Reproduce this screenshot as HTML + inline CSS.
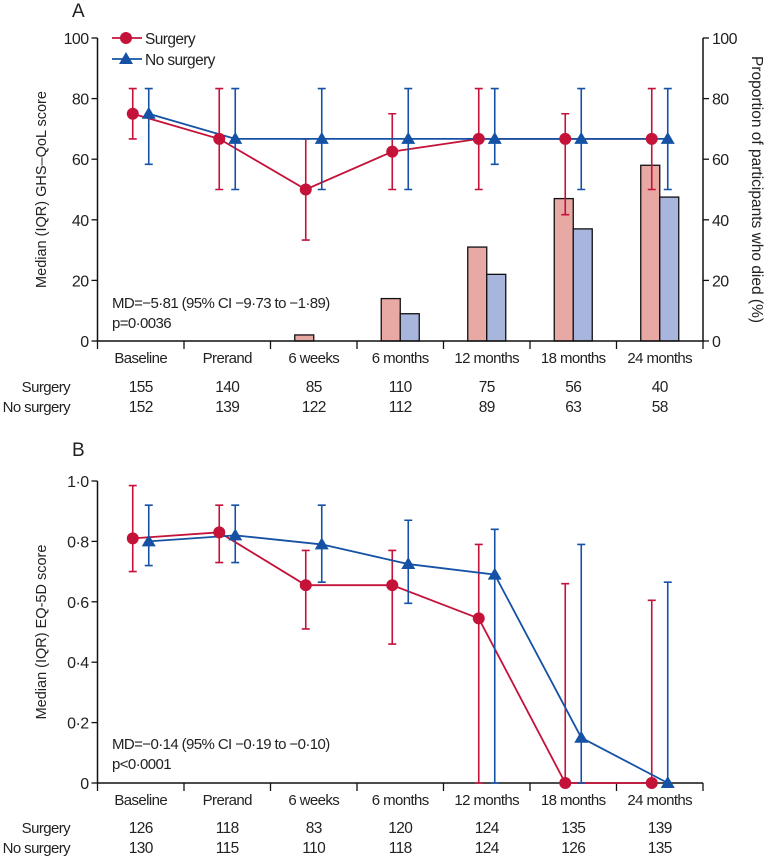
<!DOCTYPE html>
<html><head><meta charset="utf-8"><style>
body{margin:0;background:#fff}
svg{display:block;font-family:"Liberation Sans Narrow","Liberation Sans",sans-serif}
text{fill:#222;letter-spacing:-0.6px}
</style></head><body>
<svg id="chart" width="767" height="858" viewBox="0 0 767 858"></svg>
<script>
const categories=["Baseline","Prerand","6 weeks","6 months","12 months","18 months","24 months"];
const aSurgMed=[75,66.7,50,62.5,66.7,66.7,66.7];
const aSurgLo=[66.7,50,33.3,50,50,41.7,50];
const aSurgHi=[83.3,83.3,66.7,75,83.3,75,83.3];
const aNoMed=[75,66.7,66.7,66.7,66.7,66.7,66.7];
const aNoLo=[58.3,50,50,50,58.3,50,50];
const aNoHi=[83.3,83.3,83.3,83.3,83.3,83.3,83.3];
const diedSurg=[0,0,2,14,31,47,58];
const diedNo=[0,0,0,9,22,37,47.5];
const aSurgN=[155,140,85,110,75,56,40];
const aNoN=[152,139,122,112,89,63,58];
const aTicks=[0,20,40,60,80,100];
const bSurgMed=[0.81,0.83,0.655,0.655,0.545,0,0];
const bSurgLo=[0.70,0.73,0.51,0.46,0,0,0];
const bSurgHi=[0.985,0.92,0.77,0.77,0.79,0.66,0.605];
const bNoMed=[0.80,0.82,0.79,0.725,0.69,0.15,0];
const bNoLo=[0.72,0.73,0.665,0.595,0,0,0];
const bNoHi=[0.92,0.92,0.92,0.87,0.84,0.79,0.665];
const bSurgN=[126,118,83,120,124,135,139];
const bNoN=[130,115,110,118,124,126,135];
const bTicks=[0,0.2,0.4,0.6,0.8,1.0];

const svg=document.getElementById('chart');
const NS='http://www.w3.org/2000/svg';
const RED='#c41239',BLUE='#1552a5';
function mk(tag,attrs,parent){const e=document.createElementNS(NS,tag);for(const k in attrs)e.setAttribute(k,attrs[k]);(parent||svg).appendChild(e);return e;}
function txt(x,y,s,size,anchor,parent){const t=mk('text',{x:x,y:y,'font-size':size,'text-anchor':anchor||'middle'},parent);t.textContent=s;return t;}
const X0=97.5,X1=703,CW=(X1-X0)/categories.length;
const xc=i=>X0+CW*(i+0.5);

function panel(opt){
  const g=mk('g',{});
  
  
  const y=v=>opt.y0+(opt.y1-opt.y0)*(v-opt.min)/(opt.max-opt.min);
  const lt=txt(78,opt.letterY,opt.letter,19,'middle',g);
  
  if(opt.bars){
    opt.bars[0].forEach((v,i)=>{if(v<=0)return;
      const r=mk('rect',{x:xc(i)-19,y:y(v),width:19,height:y(0)-y(v),fill:'#e8a8a4',stroke:'#111','stroke-width':1.3},g);
      });
    opt.bars[1].forEach((v,i)=>{if(v<=0)return;
      const r=mk('rect',{x:xc(i),y:y(v),width:19,height:y(0)-y(v),fill:'#a8b5dc',stroke:'#111','stroke-width':1.3},g);
      });
  }
  const ax=mk('path',{d:`M${X0},${opt.y1} V${y(0)} H${X1}`+(opt.right?` V${opt.y1}`:''),fill:'none',stroke:'#111','stroke-width':1.5},g);
  
  opt.ticks.forEach(t=>{
    mk('line',{x1:X0-6,x2:X0,y1:y(t),y2:y(t),stroke:'#111','stroke-width':1.3},g);
    const l=txt(X0-9,y(t)+6,opt.fmt(t),16,'end',g);
    
    if(opt.right){mk('line',{x1:X1,x2:X1+6,y1:y(t),y2:y(t),stroke:'#111','stroke-width':1.3},g);
      const r=txt(X1+9,y(t)+6,opt.fmt(t),16,'start',g);
      }
  });
  for(let i=0;i<=categories.length;i++)mk('line',{x1:X0+CW*i,x2:X0+CW*i,y1:y(0),y2:y(0)+8,stroke:'#111','stroke-width':1.3},g);
  categories.forEach((c,i)=>{const l=txt(xc(i),y(0)+22,c,15,'middle',g);
    });
  const yl=txt(0,0,opt.ylabel,14.5,'middle',g);
  yl.setAttribute('transform',`translate(46,${(opt.y0+opt.y1)/2}) rotate(-90)`);
  yl.setAttribute('style','letter-spacing:0');
  
  if(opt.right){const rl=txt(0,0,'Proportion of participants who died (%)',15.5,'middle',g);
    rl.setAttribute('transform',`translate(752,${(opt.y0+opt.y1)/2}) rotate(90)`);
    rl.setAttribute('style','letter-spacing:0');
    }
  const series=[[opt.s[0],opt.s[1],opt.s[2],RED,-8,'surgery'],[opt.n[0],opt.n[1],opt.n[2],BLUE,8,'no-surgery']];
  series.forEach(([m,lo,hi,col,off,nm])=>{
    for(let i=0;i<m.length;i++){const x=xc(i)+off;
      const e=mk('path',{d:`M${x},${y(lo[i])}V${y(hi[i])}M${x-4},${y(lo[i])}H${x+4}M${x-4},${y(hi[i])}H${x+4}`,stroke:col,'stroke-width':1.6,fill:'none'},g);
      }
    const pl=mk('polyline',{points:m.map((v,i)=>`${xc(i)+off},${y(v)}`).join(' '),fill:'none',stroke:col,'stroke-width':1.8},g);
    
  });
  series.forEach(([m,lo,hi,col,off,nm])=>{
    m.forEach((v,i)=>{const x=xc(i)+off,yy=y(v);let p;
      if(nm==='surgery')p=mk('circle',{cx:x,cy:yy,r:6,fill:col},g);
      else p=mk('path',{d:`M${x},${yy-7}L${x+7},${yy+5}L${x-7},${yy+5}Z`,fill:col},g);
      });
  });
  const m1=txt(112,opt.mdY,opt.md,15,'start',g);
  const m2=txt(112,opt.mdY+20,opt.p,15,'start',g);
  const r1=txt(70,opt.cY,'Surgery',15,'end',g);
  const r2=txt(70,opt.cY+20,'No surgery',15,'end',g);
  opt.sn.forEach((v,i)=>{const t=txt(xc(i),opt.cY,v,15.5,'middle',g);});
  opt.nn.forEach((v,i)=>{const t=txt(xc(i),opt.cY+20,v,15.5,'middle',g);});
  return g;
}
panel({name:'panel-a',letter:'A',letterY:17,y0:341,y1:38,min:0,max:100,ticks:aTicks,fmt:t=>String(t),right:true,
  bars:[diedSurg,diedNo],ylabel:'Median (IQR) GHS–QoL score',
  s:[aSurgMed,aSurgLo,aSurgHi],n:[aNoMed,aNoLo,aNoHi],
  md:'MD=−5·81 (95% CI −9·73 to −1·89)',p:'p=0·0036',mdY:308,cY:392,sn:aSurgN,nn:aNoN});
panel({name:'panel-b',letter:'B',letterY:456,y0:783,y1:481,min:0,max:1,ticks:bTicks,fmt:t=>t===0?'0':t.toFixed(1).replace('.','·'),right:false,
  ylabel:'Median (IQR) EQ-5D score',
  s:[bSurgMed,bSurgLo,bSurgHi],n:[bNoMed,bNoLo,bNoHi],
  md:'MD=−0·14 (95% CI −0·19 to −0·10)',p:'p<0·0001',mdY:749,cY:833,sn:bSurgN,nn:bNoN});
const lg=mk('g',{});


mk('line',{x1:112,x2:142,y1:38,y2:38,stroke:RED,'stroke-width':1.8},lg);
mk('circle',{cx:126,cy:38,r:6,fill:RED},lg);
txt(145,44,'Surgery',15.5,'start',lg);
mk('line',{x1:112,x2:142,y1:59,y2:59,stroke:BLUE,'stroke-width':1.8},lg);
mk('path',{d:'M126,52L133,64L119,64Z',fill:BLUE},lg);
txt(145,65,'No surgery',15.5,'start',lg);
</script>
</body></html>
